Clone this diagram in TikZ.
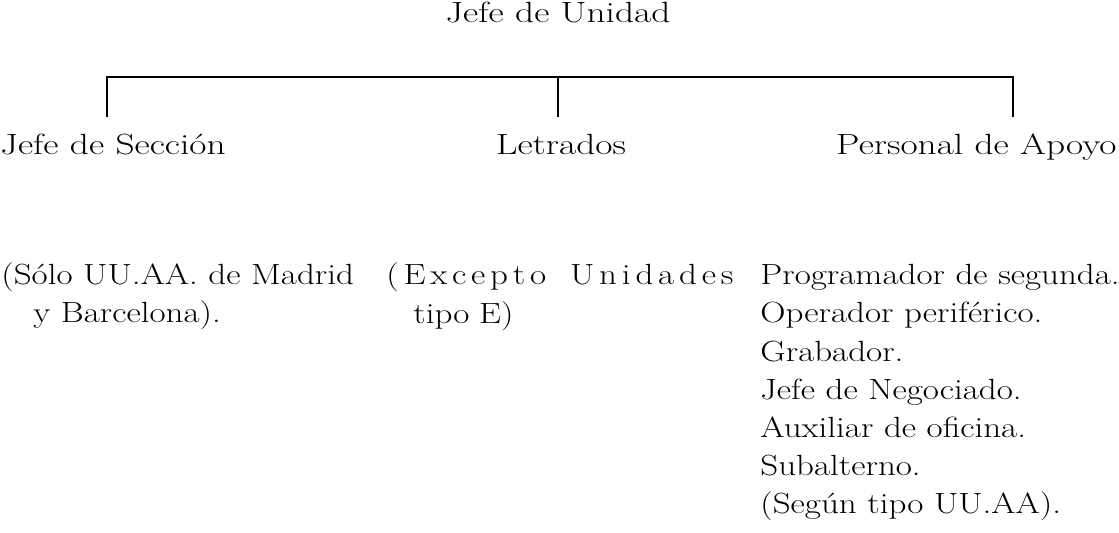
\documentclass[tikz,border=0pt]{standalone}
\usepackage{fontspec}
\setmainfont{Latin Modern Roman}[FakeStretch=1.2]
\newfontfamily\titlefont{Latin Modern Roman}[FakeStretch=1.28]
\usetikzlibrary{positioning}

\makeatletter
\newcommand\spreadword[1]{\@tfor\spread@ch:=#1\do{\spread@ch\kern2.4pt}\kern-2.4pt}
\makeatother

\begin{document}
\begin{tikzpicture}[x=0.5pt, y=-0.5pt, title/.style={
        inner sep=0pt,
        text=black,
        font=\titlefont\fontsize{14.6}{19.1}\selectfont
    }, note/.style={
        inner sep=0pt,
        align=left,
        text=black,
        font=\fontsize{14.6}{19.1}\selectfont
    }, link/.style={
        line width=1.25pt, line cap=rect
    }]
    \useasboundingbox (0,0) rectangle (1119,533);
    \node (unidad) [title, anchor=base] at (558,23) {Jefe de Unidad};
    \node (seccion) [title, anchor=base west] at (0,155) {Jefe de Secci\'on};
    \node (letrados) [title, anchor=base] at (561,155) {Letrados};
    \node (apoyo) [title, anchor=base east] at (1117,155) {Personal de Apoyo};
    \coordinate (barl) at (107,77);
    \coordinate (barm) at (558,77);
    \coordinate (barr) at (1013,77);
    \coordinate (tickl) at (107,116);
    \coordinate (tickm) at (558,116);
    \coordinate (tickr) at (1013,116);
    \draw [link] (tickl) -- (barl) -- (barr) -- (tickr);
    \draw [link] (barm) -- (tickm);
    \node (madrid) [note, anchor=base west] at (1,323) {(S\'olo UU.AA. de Madrid\\\hspace*{16pt}y Barcelona).};
    \node (excepto) [note, anchor=base west, text width=173.5pt] at (386,285) {\spreadword{(Excepto}\hfill\spreadword{Unidades}\\\hspace*{13.5pt}tipo E)};
    \node (plantilla) [note, anchor=base west] at (760,514) {Programador de segunda.\\Operador perif\'erico.\\Grabador.\\Jefe de Negociado.\\Auxiliar de oficina.\\Subalterno.\\(Seg\'un tipo UU.AA).};
\end{tikzpicture}
\end{document}
